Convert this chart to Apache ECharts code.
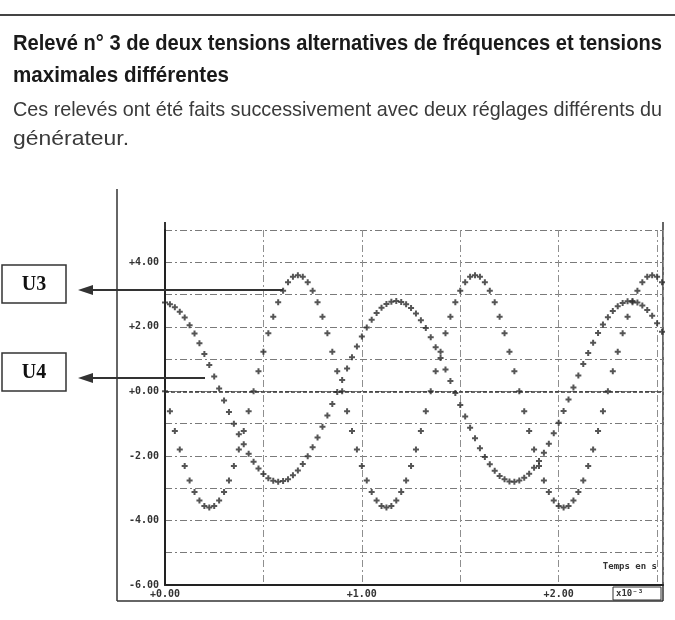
<!DOCTYPE html>
<html>
<head>
<meta charset="utf-8">
<script src="https://cdn.jsdelivr.net/npm/echarts@6/dist/echarts.min.js"></script>
<style>
html,body{margin:0;padding:0;background:#fff;}
#chart{width:675px;height:620px;}
</style>
</head>
<body>
<div id="chart"></div>
<script>
// ---- Data (time in ms, i.e. x10^-3 s; voltages in V) ----
const timesMs = [0,0.025,0.05,0.075,0.1,0.125,0.15,0.175,0.2,0.225,0.25,0.275,0.3,0.325,0.35,0.375,0.4,0.425,0.45,0.475,
0.5,0.525,0.55,0.575,0.6,0.625,0.65,0.675,0.7,0.725,0.75,0.775,0.8,0.825,0.85,0.875,0.9,0.925,0.95,0.975,
1,1.025,1.05,1.075,1.1,1.125,1.15,1.175,1.2,1.225,1.25,1.275,1.3,1.325,1.35,1.375,1.4,1.425,1.45,1.475,
1.5,1.525,1.55,1.575,1.6,1.625,1.65,1.675,1.7,1.725,1.75,1.775,1.8,1.825,1.85,1.875,1.9,1.925,1.95,1.975,
2,2.025,2.05,2.075,2.1,2.125,2.15,2.175,2.2,2.225,2.25,2.275,2.3,2.325,2.35,2.375,2.4,2.425,2.45,2.475,2.5,2.525];

const u3Values = [0,-0.62,-1.23,-1.80,-2.31,-2.76,-3.12,-3.38,-3.55,-3.60,-3.55,-3.38,-3.12,-2.76,-2.31,-1.80,-1.23,-0.62,
0,0.62,1.23,1.80,2.31,2.76,3.12,3.38,3.55,3.60,3.55,3.38,3.12,2.76,2.31,1.80,1.23,0.62,
0,-0.62,-1.23,-1.80,-2.31,-2.76,-3.12,-3.38,-3.55,-3.60,-3.55,-3.38,-3.12,-2.76,-2.31,-1.80,-1.23,-0.62,
0,0.62,1.23,1.80,2.31,2.76,3.12,3.38,3.55,3.60,3.55,3.38,3.12,2.76,2.31,1.80,1.23,0.62,
0,-0.62,-1.23,-1.80,-2.31,-2.76,-3.12,-3.38,-3.55,-3.60,-3.55,-3.38,-3.12,-2.76,-2.31,-1.80,-1.23,-0.62,
0,0.62,1.23,1.80,2.31,2.76,3.12,3.38,3.55,3.60,3.55,3.38];

const u4Values = [2.75,2.70,2.61,2.47,2.29,2.05,1.79,1.49,1.16,0.82,
0.46,0.09,-0.28,-0.64,-1.00,-1.33,-1.64,-1.93,-2.18,-2.39,
-2.56,-2.69,-2.77,-2.80,-2.78,-2.72,-2.60,-2.45,-2.25,-2.01,
-1.73,-1.43,-1.10,-0.75,-0.39,-0.02,0.35,0.71,1.06,1.39,
1.70,1.98,2.22,2.43,2.59,2.71,2.78,2.80,2.77,2.70,
2.58,2.41,2.20,1.96,1.68,1.37,1.03,0.68,0.32,-0.05,
-0.42,-0.78,-1.13,-1.45,-1.76,-2.03,-2.26,-2.46,-2.62,-2.72,
-2.79,-2.80,-2.76,-2.68,-2.55,-2.37,-2.16,-1.90,-1.62,-1.30,
-0.97,-0.61,-0.25,0.12,0.49,0.85,1.19,1.51,1.81,2.07,
2.30,2.49,2.64,2.74,2.79,2.80,2.75,2.66,2.52,2.34,
2.11,1.85];

const xTickLabels = [0, 1, 2];
const yTickLabels = [-6, -4, -2, 0, 2, 4];
const seriesNames = ['U3', 'U4'];
const titleLines = ['Relevé n° 3 de deux tensions alternatives de fréquences et tensions', 'maximales différentes'];
const subtitleLines = ['Ces relevés ont été faits successivement avec deux réglages différents du', 'générateur.'];
const xAxisName = 'Temps en s';
const xUnitText = 'x10⁻³';

// ---- Layout ----
const W = 675, H = 620;
const G = {left: 165, right: 12, top: 230, bottom: 35};
const gx0 = G.left, gx1 = W - G.right, gy0 = G.top, gy1 = H - G.bottom;
const INK = '#333333';

function measure(text, font) {
  const ctx = document.createElement('canvas').getContext('2d');
  ctx.font = font;
  return ctx.measureText(text).width;
}
const titleFont = 'bold 22px "Liberation Sans Narrow", "Liberation Sans", Arial, sans-serif';
const subFont = '21px "Liberation Sans Narrow", "Liberation Sans", Arial, sans-serif';
function fitText(text, font, x, y, targetW, fill) {
  return {type: 'text', x: x, y: y, scaleX: targetW / measure(text, font), z: 50,
    style: {text: text, font: font, fill: fill, align: 'left', verticalAlign: 'middle'}};
}

const plusSymbol = 'path://M2,0H4V2H6V4H4V6H2V4H0V2H2Z';
const labelFont = {fontFamily: '"DejaVu Sans Mono", monospace', fontSize: 10, fontWeight: 'bold', color: '#333'};

function fmtVal(v) { return (v >= 0 ? '+' : '') + v.toFixed(2); }

const chart = echarts.init(document.getElementById('chart'), null, {renderer: 'canvas', width: W, height: H});

const graphic = [
  {type: 'line', shape: {x1: 0, y1: 15, x2: W, y2: 15}, style: {stroke: '#444', lineWidth: 2}},
  fitText(titleLines[0], titleFont, 13, 44, 649, '#1a1a1a'),
  fitText(titleLines[1], titleFont, 13, 76, 216, '#1a1a1a'),
  fitText(subtitleLines[0], subFont, 13, 110, 649, '#3a3a3a'),
  fitText(subtitleLines[1], subFont, 13, 139, 116, '#3a3a3a'),
  // outer frame of the recorder plot
  {type: 'line', shape: {x1: 117, y1: 189, x2: 117, y2: 601}, style: {stroke: INK, lineWidth: 1.5}},
  {type: 'line', shape: {x1: 117, y1: 601, x2: gx1, y2: 601}, style: {stroke: INK, lineWidth: 1.5}},
  {type: 'line', shape: {x1: gx0, y1: 222, x2: gx0, y2: gy0}, style: {stroke: INK, lineWidth: 2}},
  {type: 'line', shape: {x1: gx1, y1: 222, x2: gx1, y2: 601}, style: {stroke: INK, lineWidth: 1.5}},
  // unit box
  {type: 'rect', shape: {x: 613, y: 587, width: 48, height: 13}, style: {fill: '#fff', stroke: INK, lineWidth: 1}},
  {type: 'text', x: 616, y: 594, style: {text: xUnitText, font: 'bold 9px "DejaVu Sans Mono", monospace', fill: INK, align: 'left', verticalAlign: 'middle'}},
  {type: 'text', x: 657, y: 567, style: {text: xAxisName, font: 'bold 9px "DejaVu Sans Mono", monospace', fill: INK, align: 'right', verticalAlign: 'middle'}},
  // U3 label + arrow
  {type: 'rect', z: 60, shape: {x: 2, y: 265, width: 64, height: 38}, style: {fill: '#fff', stroke: INK, lineWidth: 1.5}},
  {type: 'text', z: 61, x: 34, y: 285, style: {text: seriesNames[0], font: 'bold 20px "Liberation Serif", "Times New Roman", serif', fill: '#111', align: 'center', verticalAlign: 'middle'}},
  {type: 'line', z: 60, shape: {x1: 88, y1: 290, x2: 283, y2: 290}, style: {stroke: INK, lineWidth: 2.2}},
  {type: 'polygon', z: 60, shape: {points: [[78, 290], [93, 285], [93, 295]]}, style: {fill: INK}},
  // U4 label + arrow
  {type: 'rect', z: 60, shape: {x: 2, y: 353, width: 64, height: 38}, style: {fill: '#fff', stroke: INK, lineWidth: 1.5}},
  {type: 'text', z: 61, x: 34, y: 373, style: {text: seriesNames[1], font: 'bold 20px "Liberation Serif", "Times New Roman", serif', fill: '#111', align: 'center', verticalAlign: 'middle'}},
  {type: 'line', z: 60, shape: {x1: 88, y1: 378, x2: 205, y2: 378}, style: {stroke: INK, lineWidth: 2.2}},
  {type: 'polygon', z: 60, shape: {points: [[78, 378], [93, 373], [93, 383]]}, style: {fill: INK}}
];

const option = {
  backgroundColor: '#fff',
  animation: false,
  grid: {left: G.left, right: G.right, top: G.top, bottom: G.bottom, containLabel: false},
  xAxis: {
    type: 'value', min: 0, max: 2.53, interval: 0.5,
    axisLine: {show: true, onZero: false, lineStyle: {color: '#222', width: 2}},
    axisTick: {show: false},
    axisLabel: Object.assign({margin: 4, formatter: function (v) {
      return xTickLabels.some(function (t) { return Math.abs(t - v) < 1e-9; }) ? fmtVal(v) : '';
    }}, labelFont),
    splitLine: {show: true, lineStyle: {color: '#8f8f8f', width: 1, type: [7, 3, 2, 3]}}
  },
  yAxis: {
    type: 'value', min: -6, max: 5, interval: 1,
    axisLine: {show: true, onZero: false, lineStyle: {color: '#222', width: 2}},
    axisTick: {show: false},
    axisLabel: Object.assign({margin: 6, formatter: function (v) {
      return yTickLabels.some(function (t) { return Math.abs(t - v) < 1e-9; }) ? fmtVal(v) : '';
    }}, labelFont),
    splitLine: {show: true, lineStyle: {color: '#7a7a7a', width: 1, type: [7, 3, 2, 3]}}
  },
  series: [
    {
      name: seriesNames[0], type: 'scatter', symbol: plusSymbol, symbolSize: 6,
      itemStyle: {color: '#2a2a2a'},
      data: timesMs.map(function (t, i) { return [t, u3Values[i]]; }),
      markLine: {
        silent: true, symbol: 'none', label: {show: false},
        lineStyle: {color: '#333', width: 1.6, type: [4, 2]},
        data: [{yAxis: 0}]
      },
      z: 5
    },
    {
      name: seriesNames[1], type: 'scatter', symbol: plusSymbol, symbolSize: 6,
      itemStyle: {color: '#2a2a2a'},
      data: timesMs.map(function (t, i) { return [t, u4Values[i]]; }),
      z: 5
    }
  ],
  graphic: graphic
};
chart.setOption(option);
</script>
</body>
</html>
